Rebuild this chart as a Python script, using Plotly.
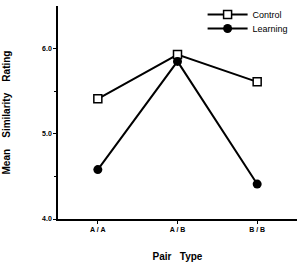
import plotly.graph_objects as go

categories = ["A / A", "A / B", "B / B"]
control = [5.41, 5.93, 5.61]
learning = [4.58, 5.85, 4.41]
x_idx = [0, 1, 2]

font = "Liberation Sans, Arial, sans-serif"

fig = go.Figure()
fig.add_trace(go.Scatter(
    x=x_idx, y=control, name="Control", mode="lines+markers",
    line=dict(color="black", width=2),
    marker=dict(symbol="square", size=8, color="white", line=dict(color="black", width=1.5)),
    legend="legend",
))
fig.add_trace(go.Scatter(
    x=x_idx, y=learning, name="Learning", mode="lines+markers",
    line=dict(color="black", width=2),
    marker=dict(symbol="circle", size=9, color="black"),
    legend="legend2",
))

leg_common = dict(xanchor="left", yanchor="top",
                  font=dict(family=font, size=9, color="black"),
                  bgcolor="rgba(0,0,0,0)", itemwidth=40)

fig.update_layout(
    width=303, height=262,
    margin=dict(l=58, r=6, t=0, b=43),
    paper_bgcolor="white", plot_bgcolor="white",
    showlegend=True,
    legend=dict(x=0.605, y=1.0, **leg_common),
    legend2=dict(x=0.605, y=0.936, **leg_common),
    font=dict(family=font, color="black"),
)
fig.update_xaxes(
    automargin=False,
    range=[-0.5, 2.5], tickmode="array", tickvals=x_idx, ticktext=categories,
    showline=True, linecolor="black", linewidth=1.5, showgrid=False, zeroline=False,
    ticks="outside", ticklen=3, tickcolor="black",
    tickfont=dict(family=font, size=7, weight="bold"),
    title=dict(text="Pair&nbsp;&nbsp;&nbsp;Type", font=dict(family=font, size=10, weight="bold"), standoff=25),
)
fig.update_yaxes(
    automargin=False, domain=[0, 0.9726],
    range=[4.0, 6.5], tickmode="array", tickvals=[4.0, 5.0, 6.0], ticktext=["4.0", "5.0", "6.0"],
    showline=True, linecolor="black", linewidth=1.5, showgrid=False, zeroline=False,
    ticks="outside", ticklen=3, tickcolor="black",
    minor=dict(tickvals=[4.5, 5.5], ticks="outside", ticklen=2, tickcolor="black"),
    tickfont=dict(family=font, size=7, weight="bold"),
    title=dict(text="Mean&nbsp;&nbsp;&nbsp;&nbsp;Similarity&nbsp;&nbsp;&nbsp;&nbsp;Rating", font=dict(family=font, size=10, weight="bold"), standoff=30),
)
fig.write_html("out.html")
